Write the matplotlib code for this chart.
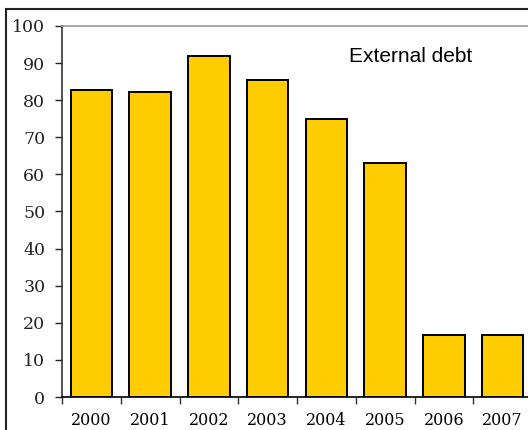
import matplotlib.pyplot as plt
from matplotlib.patches import Rectangle

# External debt by year
years = ["2000", "2001", "2002", "2003", "2004", "2005", "2006", "2007"]
debt = [82.8, 82.3, 92.0, 85.5, 75.0, 63.1, 16.8, 16.8]
y_ticks = list(range(0, 101, 10))

fig = plt.figure(figsize=(5.28, 4.30), dpi=100)

# outer frame of the original picture (cut off at right and bottom)
fig.patches.append(Rectangle((6 / 528, -0.1), 1.2, 1.1 - 9 / 430,
                             transform=fig.transFigure, fill=False,
                             edgecolor="#222222", linewidth=1.5))

ax = fig.add_axes([62 / 528, 1 - 397 / 430, 470 / 528, (397 - 26) / 430])

xpos = list(range(len(years)))
ax.bar(xpos, debt, width=0.71, color="#FFCC00", edgecolor="black", linewidth=1.4)

ax.set_xlim(-0.5, len(years) - 0.5)
ax.set_ylim(0, 100)

ax.set_yticks(y_ticks)
ax.set_yticklabels([str(v) for v in y_ticks], family="DejaVu Serif", fontsize=12.5)
ax.tick_params(axis="y", direction="out", length=5, width=1, pad=7, colors="#222222")

ax.set_xticks(xpos)
ax.set_xticklabels(years, family="DejaVu Serif", fontsize=11.5)
ax.set_xticks([p - 0.5 for p in xpos] + [len(years) - 0.5], minor=True)
ax.tick_params(axis="x", which="major", length=0, pad=11)
ax.tick_params(axis="x", which="minor", direction="out", length=5, width=1, colors="#333333")

ax.spines["left"].set_color("#333333")
ax.spines["bottom"].set_color("black")
ax.spines["top"].set_color("#999999")
ax.spines["right"].set_color("#999999")
for s in ax.spines.values():
    s.set_linewidth(1.2)

ax.text(349, 430 - 56, "External debt", transform=None, fontsize=15,
        family="Liberation Sans", va="center", ha="left")

fig.savefig("out.png", dpi=100)
